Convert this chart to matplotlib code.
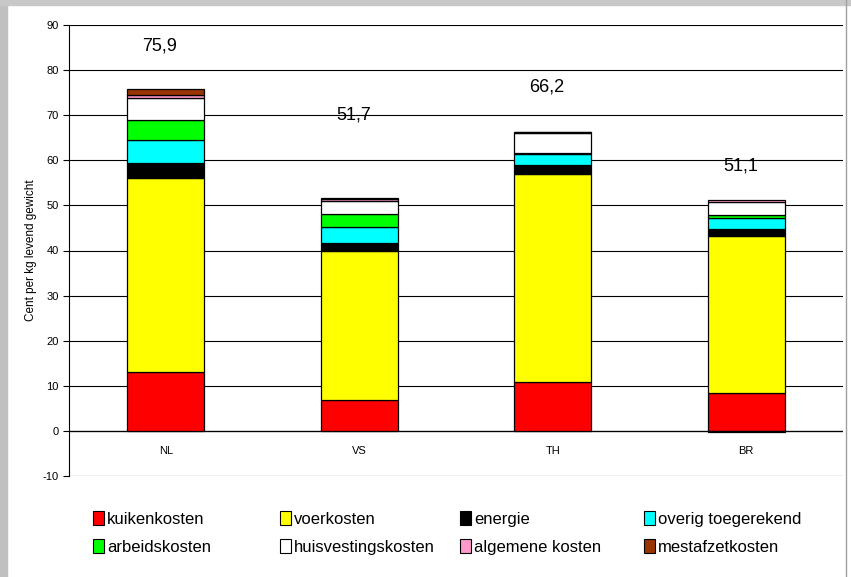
import matplotlib
matplotlib.use("Agg")
import matplotlib.pyplot as plt
from matplotlib.patches import Rectangle, Patch
from matplotlib.lines import Line2D
import numpy as np

plt.rcParams['font.family'] = ['Liberation Sans', 'DejaVu Sans']
plt.rcParams['axes.unicode_minus'] = False

landen = ["NL", "VS", "TH", "BR"]
posten = ["kuikenkosten", "voerkosten", "energie", "overig toegerekend",
          "arbeidskosten", "huisvestingskosten", "algemene kosten", "mestafzetkosten"]
kleuren = ["#FF0000", "#FFFF00", "#000000", "#00FFFF",
           "#00FF00", "#FFFFFF", "#FF99CC", "#993300"]

# cent per kg levend gewicht, per post (NL, VS, TH, BR)
kuiken    = [13.1, 6.9, 10.8, 8.4]
voer      = [42.9, 32.9, 46.2, 34.8]
energie   = [3.4, 1.8, 1.9, 1.6]
overig    = [5.2, 3.7, 2.4, 2.3]
arbeid    = [4.4, 2.7, 0.3, 0.8]
huis      = [4.8, 3.0, 4.4, 2.9]
algemeen  = [0.6, 0.4, 0.2, 0.5]
mest      = [1.5, 0.3, 0.0, -0.2]
totaal    = [75.9, 51.7, 66.2, 51.1]

reeksen = [kuiken, voer, energie, overig, arbeid, huis, algemeen, mest]

fig = plt.figure(figsize=(8.51, 5.77), dpi=100)
ax = fig.add_axes([69/851, 1-476/577, (843-69)/851, (476-25)/577])

x = np.arange(len(landen))
pos_bottom = np.zeros(len(landen))
neg_bottom = np.zeros(len(landen))
for waarden, kleur in zip(reeksen, kleuren):
    w = np.array(waarden)
    bottom = np.where(w >= 0, pos_bottom, neg_bottom)
    ax.bar(x, w, 0.4, bottom=bottom, color=kleur, edgecolor="black", linewidth=0.9, zorder=3)
    pos_bottom += np.where(w >= 0, w, 0)
    neg_bottom += np.where(w < 0, w, 0)

# labels met totalen
label_y = [85.3, 70.0, 76.2, 58.7]
for xi, t, ly in zip(x, totaal, label_y):
    ax.text(xi - 0.03, ly, f"{t:.1f}".replace(".", ","), ha="center", va="center", fontsize=13)

ax.set_xlim(-0.5, 3.5)
ax.set_ylim(-10, 90)
ax.set_yticks(np.arange(-10, 91, 10))
ax.yaxis.grid(True, color="black", linewidth=0.8, zorder=0)
ax.axhline(0, color="black", linewidth=0.9, zorder=2)
ax.set_xticks(x)
ax.set_xticklabels(landen, fontsize=8)
ax.tick_params(axis="x", length=0, pad=-21.5)
ax.tick_params(axis="y", labelsize=8, length=4, width=0.8)
for s in ["top", "right", "bottom"]:
    ax.spines[s].set_visible(False)
ax.spines["left"].set_linewidth(0.8)
ax.set_ylabel("Cent per kg levend gewicht", fontsize=8.5, labelpad=4)

# legenda in 4 kolommen, 2 rijen
kolom_x = [93, 280, 460, 644]
for k in range(4):
    idx = [k, k + 4]
    handles = [Patch(facecolor=kleuren[i], edgecolor="black", linewidth=0.8) for i in idx]
    fig.legend(handles, [posten[i] for i in idx], loc="upper left",
               bbox_to_anchor=(kolom_x[k]/851, 1-511/577), frameon=False,
               fontsize=12, handlelength=0.65, handleheight=0.9, handletextpad=0.2,
               labelspacing=0.75, borderaxespad=0, borderpad=0)

# grijze kader
fig.patches.append(Rectangle((0, 0), 7/851, 1, transform=fig.transFigure, color="#c0c0c0", zorder=0))
fig.patches.append(Rectangle((0, 1-5/577), 1, 5/577, transform=fig.transFigure, color="#c8c8c8", zorder=0))
fig.lines.append(Line2D([846/851, 846/851], [0, 1], transform=fig.transFigure, color="#a0a0a0", linewidth=1))

fig.savefig("out.png", dpi=100)
